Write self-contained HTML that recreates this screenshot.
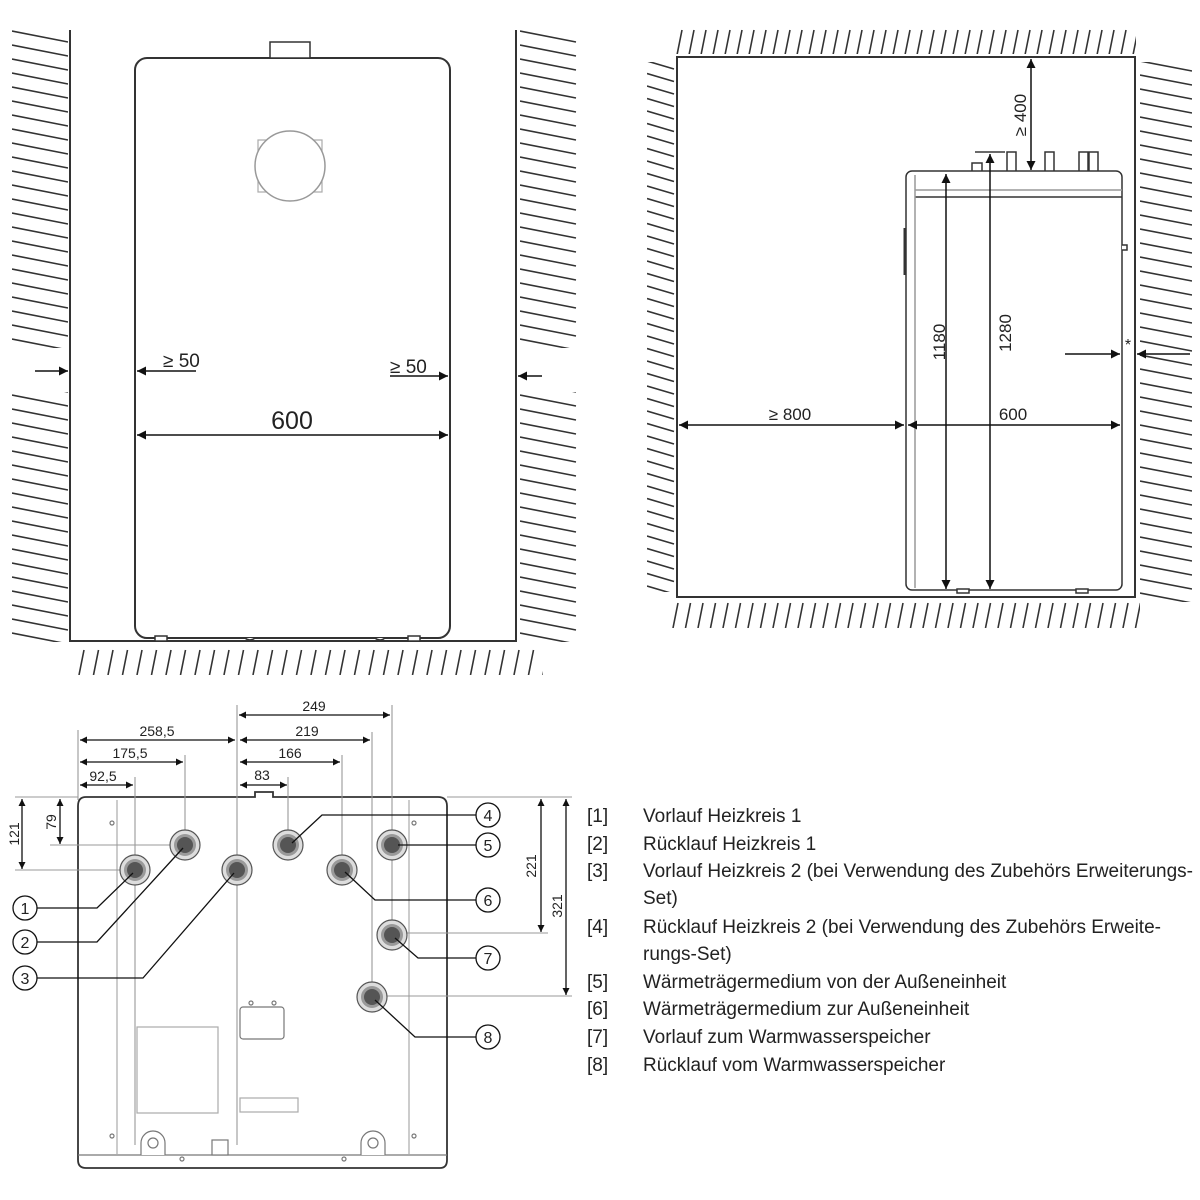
<!DOCTYPE html>
<html><head><meta charset="utf-8"><style>
html,body{margin:0;padding:0;background:#fff;}
svg{display:block}
text{font-family:"Liberation Sans Narrow","Liberation Sans",sans-serif;fill:#222}
</style></head><body>
<svg width="1200" height="1200" viewBox="0 0 1200 1200" xmlns="http://www.w3.org/2000/svg">
<defs>
<marker id="a" viewBox="0 0 10 10" refX="10" refY="5" markerWidth="9" markerHeight="9" orient="auto-start-reverse" markerUnits="userSpaceOnUse"><path d="M0,0L10,5L0,10z" fill="#111"/></marker>
<marker id="s" viewBox="0 0 10 10" refX="10" refY="5" markerWidth="7" markerHeight="7" orient="auto-start-reverse" markerUnits="userSpaceOnUse"><path d="M0,0L10,5L0,10z" fill="#111"/></marker>
<pattern id="hl" patternUnits="userSpaceOnUse" x="12" y="30" width="60" height="14"><line x1="0" y1="1" x2="56" y2="12" stroke="#333" stroke-width="1.6"/></pattern>
<pattern id="hr" patternUnits="userSpaceOnUse" x="520" y="30" width="60" height="14"><line x1="0" y1="1" x2="56" y2="12" stroke="#333" stroke-width="1.6"/></pattern>
<pattern id="hf" patternUnits="userSpaceOnUse" x="78" y="645" width="14.5" height="40"><line x1="1" y1="30" x2="6" y2="5" stroke="#333" stroke-width="1.6"/></pattern>
<pattern id="ht" patternUnits="userSpaceOnUse" x="676" y="25" width="12" height="40"><line x1="1" y1="30" x2="6" y2="5" stroke="#333" stroke-width="1.6"/></pattern>
<pattern id="hb" patternUnits="userSpaceOnUse" x="672" y="598" width="12.5" height="40"><line x1="1" y1="30" x2="6" y2="5" stroke="#333" stroke-width="1.6"/></pattern>
<pattern id="hs" patternUnits="userSpaceOnUse" x="647" y="60" width="30" height="12.5"><line x1="0" y1="1" x2="27" y2="9" stroke="#333" stroke-width="1.6"/></pattern>
<pattern id="hrr" patternUnits="userSpaceOnUse" x="1140" y="60" width="55" height="14"><line x1="0" y1="1" x2="52" y2="11" stroke="#333" stroke-width="1.6"/></pattern>
</defs>

<!-- TOP LEFT -->
<rect x="12" y="30" width="56" height="318" fill="url(#hl)"/>
<rect x="12" y="392" width="56" height="250" fill="url(#hl)"/>
<rect x="520" y="30" width="58" height="318" fill="url(#hr)"/>
<rect x="520" y="392" width="58" height="250" fill="url(#hr)"/>
<rect x="78" y="645" width="465" height="30" fill="url(#hf)"/>
<polyline points="70,30 70,641 516,641 516,30" fill="none" stroke="#333" stroke-width="2"/>
<rect x="135" y="58" width="315" height="580" rx="12" fill="#fff" stroke="#333" stroke-width="2"/>
<rect x="270" y="42" width="40" height="16" fill="#fff" stroke="#333" stroke-width="1.5"/>
<rect x="258" y="140" width="64" height="52" fill="none" stroke="#aaa" stroke-width="1.2"/>
<circle cx="290" cy="166" r="35" fill="#fff" stroke="#999" stroke-width="1.5"/>
<g stroke="#333" stroke-width="1.5" fill="#fff"><rect x="155" y="636" width="12" height="5"/><rect x="408" y="636" width="12" height="5"/><path d="M245 638 q5 4 10 0"/><path d="M375 638 q5 4 10 0"/></g>
<g stroke="#111" stroke-width="1.5" fill="none">
<line x1="35" y1="371" x2="68" y2="371" marker-end="url(#a)"/>
<line x1="196" y1="371" x2="137" y2="371" marker-end="url(#a)"/>
<line x1="390" y1="376" x2="448" y2="376" marker-end="url(#a)"/>
<line x1="542" y1="376" x2="518" y2="376" marker-end="url(#a)"/>
<line x1="137" y1="435" x2="448" y2="435" marker-start="url(#a)" marker-end="url(#a)"/>
</g>
<text x="163" y="367" font-size="19">≥ 50</text>
<text x="390" y="373" font-size="19">≥ 50</text>
<text x="292" y="429" font-size="25" text-anchor="middle">600</text>

<!-- TOP RIGHT -->
<rect x="676" y="28" width="460" height="26" fill="url(#ht)"/>
<rect x="672" y="600" width="468" height="28" fill="url(#hb)"/>
<rect x="647" y="62" width="28" height="530" fill="url(#hs)"/>
<rect x="1140" y="62" width="52" height="540" fill="url(#hrr)"/>
<rect x="677" y="57" width="458" height="540" fill="none" stroke="#333" stroke-width="2"/>
<g stroke="#333" stroke-width="1.5" fill="#fff">
<path d="M972 172V163H982V172M1007 172V152H1016V172M1045 172V152H1054V172M1079 172V152H1088V172M1089 172V152H1098V172"/>
<rect x="906" y="171" width="216" height="419" rx="6"/>
<line x1="915" y1="190" x2="1122" y2="190" stroke="#999"/>
<line x1="915" y1="197" x2="1122" y2="197"/>
<line x1="915" y1="175" x2="915" y2="588" stroke="#999"/>
<line x1="905" y1="228" x2="905" y2="275" stroke-width="3"/>
<rect x="957" y="589" width="12" height="4"/><rect x="1076" y="589" width="12" height="4"/>
<path d="M1122 245h5v5h-5"/>
</g>
<line x1="975" y1="152" x2="1005" y2="152" stroke="#111" stroke-width="1.3"/>
<g stroke="#111" stroke-width="1.5" fill="none">
<line x1="1031" y1="59" x2="1031" y2="170" marker-start="url(#a)" marker-end="url(#a)"/>
<line x1="946" y1="174" x2="946" y2="589" marker-start="url(#a)" marker-end="url(#a)"/>
<line x1="990" y1="154" x2="990" y2="589" marker-start="url(#a)" marker-end="url(#a)"/>
<line x1="679" y1="425" x2="904" y2="425" marker-start="url(#a)" marker-end="url(#a)"/>
<line x1="908" y1="425" x2="1120" y2="425" marker-start="url(#a)" marker-end="url(#a)"/>
<line x1="1065" y1="354" x2="1120" y2="354" marker-end="url(#a)"/>
<line x1="1190" y1="354" x2="1137" y2="354" marker-end="url(#a)"/>
</g>
<text transform="translate(1026,115) rotate(-90)" font-size="17" text-anchor="middle">≥ 400</text>
<text transform="translate(945,342) rotate(-90)" font-size="17" text-anchor="middle">1180</text>
<text transform="translate(1011,333) rotate(-90)" font-size="17" text-anchor="middle">1280</text>
<text x="790" y="420" font-size="17" text-anchor="middle">≥ 800</text>
<text x="1013" y="420" font-size="17" text-anchor="middle">600</text>
<text x="1128" y="350" font-size="16" text-anchor="middle">*</text>

<!-- BOTTOM LEFT -->
<path d="M78 806 Q78 797 86 797 H255 V792 H273 V797 H438 Q447 797 447 806 V1160 Q447 1168 440 1168 H86 Q78 1168 78 1160 Z" fill="#fff" stroke="#333" stroke-width="1.8"/>
<line x1="78" y1="1155" x2="447" y2="1155" stroke="#777" stroke-width="1.2"/>
<g stroke="#aaa" stroke-width="1.2" fill="none">
<line x1="117" y1="800" x2="117" y2="1155"/><line x1="409" y1="800" x2="409" y2="1155"/>
<rect x="137" y="1027" width="81" height="86"/><rect x="240" y="1098" width="58" height="14"/>
<rect x="240" y="1007" width="44" height="32" rx="3" stroke="#777"/>
</g>
<g stroke="#777" fill="#fff" stroke-width="1.2">
<path d="M141 1155v-12a12 12 0 0 1 24 0v12"/><circle cx="153" cy="1143" r="5"/>
<path d="M361 1155v-12a12 12 0 0 1 24 0v12"/><circle cx="373" cy="1143" r="5"/>
<rect x="212" y="1140" width="16" height="15"/>
<circle cx="112" cy="823" r="2"/><circle cx="414" cy="823" r="2"/><circle cx="112" cy="1136" r="2"/><circle cx="414" cy="1136" r="2"/><circle cx="251" cy="1003" r="2"/><circle cx="274" cy="1003" r="2"/><circle cx="182" cy="1159" r="2"/><circle cx="344" cy="1159" r="2"/>
</g>
<!-- extension lines -->
<g stroke="#999" stroke-width="1.1">
<line x1="78" y1="730" x2="78" y2="800"/><line x1="135" y1="777" x2="135" y2="1145"/><line x1="185" y1="755" x2="185" y2="845"/>
<line x1="237" y1="705" x2="237" y2="1145"/><line x1="288" y1="777" x2="288" y2="845"/><line x1="342" y1="755" x2="342" y2="870"/>
<line x1="372" y1="732" x2="372" y2="1000"/><line x1="392" y1="705" x2="392" y2="935"/>
<line x1="15" y1="797" x2="78" y2="797"/><line x1="50" y1="845" x2="185" y2="845"/><line x1="15" y1="870" x2="135" y2="870"/>
<line x1="447" y1="797" x2="572" y2="797"/><line x1="395" y1="933" x2="548" y2="933"/><line x1="380" y1="996" x2="572" y2="996"/>
</g>
<g stroke="#111" stroke-width="1.3" fill="none">
<line x1="239" y1="715" x2="390" y2="715" marker-start="url(#s)" marker-end="url(#s)"/>
<line x1="80" y1="740" x2="235" y2="740" marker-start="url(#s)" marker-end="url(#s)"/>
<line x1="240" y1="740" x2="370" y2="740" marker-start="url(#s)" marker-end="url(#s)"/>
<line x1="80" y1="762" x2="183" y2="762" marker-start="url(#s)" marker-end="url(#s)"/>
<line x1="240" y1="762" x2="340" y2="762" marker-start="url(#s)" marker-end="url(#s)"/>
<line x1="80" y1="785" x2="133" y2="785" marker-start="url(#s)" marker-end="url(#s)"/>
<line x1="240" y1="785" x2="287" y2="785" marker-start="url(#s)" marker-end="url(#s)"/>
<line x1="22" y1="799" x2="22" y2="869" marker-start="url(#s)" marker-end="url(#s)"/>
<line x1="60" y1="799" x2="60" y2="844" marker-start="url(#s)" marker-end="url(#s)"/>
<line x1="541" y1="799" x2="541" y2="932" marker-start="url(#s)" marker-end="url(#s)"/>
<line x1="566" y1="799" x2="566" y2="995" marker-start="url(#s)" marker-end="url(#s)"/>
</g>
<g font-size="14" text-anchor="middle">
<text x="314" y="711">249</text><text x="157" y="736">258,5</text><text x="307" y="736">219</text>
<text x="130" y="758">175,5</text><text x="290" y="758">166</text><text x="103" y="781">92,5</text><text x="262" y="780">83</text>
<text transform="translate(19,834) rotate(-90)">121</text><text transform="translate(56,822) rotate(-90)">79</text>
<text transform="translate(536,866) rotate(-90)">221</text><text transform="translate(562,906) rotate(-90)">321</text>
</g>
<!-- pipes -->
<g>
<g transform="translate(135,870)"><circle r="15" fill="#ddd" stroke="#555" stroke-width="1.2"/><circle r="11" fill="#999"/><circle r="8" fill="#555"/></g>
<g transform="translate(185,845)"><circle r="15" fill="#ddd" stroke="#555" stroke-width="1.2"/><circle r="11" fill="#999"/><circle r="8" fill="#555"/></g>
<g transform="translate(237,870)"><circle r="15" fill="#ddd" stroke="#555" stroke-width="1.2"/><circle r="11" fill="#999"/><circle r="8" fill="#555"/></g>
<g transform="translate(288,845)"><circle r="15" fill="#ddd" stroke="#555" stroke-width="1.2"/><circle r="11" fill="#999"/><circle r="8" fill="#555"/></g>
<g transform="translate(392,845)"><circle r="15" fill="#ddd" stroke="#555" stroke-width="1.2"/><circle r="11" fill="#999"/><circle r="8" fill="#555"/></g>
<g transform="translate(342,870)"><circle r="15" fill="#ddd" stroke="#555" stroke-width="1.2"/><circle r="11" fill="#999"/><circle r="8" fill="#555"/></g>
<g transform="translate(392,935)"><circle r="15" fill="#ddd" stroke="#555" stroke-width="1.2"/><circle r="11" fill="#999"/><circle r="8" fill="#555"/></g>
<g transform="translate(372,997)"><circle r="15" fill="#ddd" stroke="#555" stroke-width="1.2"/><circle r="11" fill="#999"/><circle r="8" fill="#555"/></g>
</g>
<!-- leaders -->
<g stroke="#111" stroke-width="1.3" fill="none">
<polyline points="37,908 97,908 133,873"/>
<polyline points="37,942 97,942 183,848"/>
<polyline points="37,978 143,978 234,873"/>
<polyline points="476,815 322,815 292,843"/>
<polyline points="476,845 398,845"/>
<polyline points="476,900 375,900 345,872"/>
<polyline points="476,958 418,958 395,938"/>
<polyline points="476,1037 415,1037 375,1000"/>
</g>
<g stroke="#111" stroke-width="1.3" fill="#fff">
<circle cx="25" cy="908" r="12"/><circle cx="25" cy="942" r="12"/><circle cx="25" cy="978" r="12"/>
<circle cx="488" cy="815" r="12"/><circle cx="488" cy="845" r="12"/><circle cx="488" cy="900" r="12"/><circle cx="488" cy="958" r="12"/><circle cx="488" cy="1037" r="12"/>
</g>
<g font-size="16" text-anchor="middle">
<text x="25" y="914">1</text><text x="25" y="948">2</text><text x="25" y="984">3</text>
<text x="488" y="821">4</text><text x="488" y="851">5</text><text x="488" y="906">6</text><text x="488" y="964">7</text><text x="488" y="1043">8</text>
</g>
<!-- legend -->
<g font-size="19">
<text x="587" y="822">[1]</text><text x="643" y="822">Vorlauf Heizkreis 1</text>
<text x="587" y="850">[2]</text><text x="643" y="850">Rücklauf Heizkreis 1</text>
<text x="587" y="877">[3]</text><text x="643" y="877" textLength="550" lengthAdjust="spacingAndGlyphs">Vorlauf Heizkreis 2 (bei Verwendung des Zubehörs Erweiterungs-</text>
<text x="643" y="904">Set)</text>
<text x="587" y="933">[4]</text><text x="643" y="933" textLength="518" lengthAdjust="spacingAndGlyphs">Rücklauf Heizkreis 2 (bei Verwendung des Zubehörs Erweite-</text>
<text x="643" y="960">rungs-Set)</text>
<text x="587" y="988">[5]</text><text x="643" y="988">Wärmeträgermedium von der Außeneinheit</text>
<text x="587" y="1015">[6]</text><text x="643" y="1015">Wärmeträgermedium zur Außeneinheit</text>
<text x="587" y="1043">[7]</text><text x="643" y="1043">Vorlauf zum Warmwasserspeicher</text>
<text x="587" y="1071">[8]</text><text x="643" y="1071">Rücklauf vom Warmwasserspeicher</text>
</g>
</svg>
</body></html>
